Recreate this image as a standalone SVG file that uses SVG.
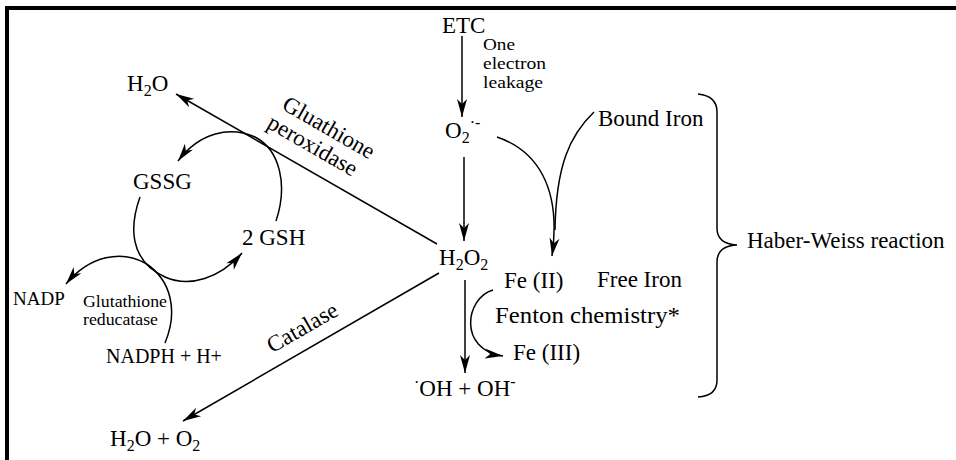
<svg xmlns="http://www.w3.org/2000/svg" width="956" height="460" viewBox="0 0 956 460">
<style>
text{font-family:"Liberation Serif","Times New Roman",serif;font-size:23px;fill:#000}
.sm{font-size:16.5px}
.xs{font-size:16px}
.sub{font-size:16px}
.ln{fill:none;stroke:#000;stroke-width:1.5}
</style>
<defs>
<marker id="ah" viewBox="-20 -6 21 12" refX="0" refY="0" markerWidth="21" markerHeight="12" markerUnits="userSpaceOnUse" orient="auto">
<path d="M0,0 L-18,-5 L-13,0 L-18,5 Z" fill="#000"/>
</marker>
</defs>
<rect width="956" height="460" fill="#fff"/>
<path d="M7,460 L7,8 L956,8" fill="none" stroke="#000" stroke-width="4"/>

<g id="connectors">
<path class="ln" d="M462,36 L462,117" marker-end="url(#ah)"/>
<path class="ln" d="M464,157 L464,241" marker-end="url(#ah)"/>
<path class="ln" d="M465,280 L465,373" marker-end="url(#ah)"/>
<path class="ln" d="M437,244 L176,94" marker-end="url(#ah)"/>
<path class="ln" d="M439,273 L183,421" marker-end="url(#ah)"/>
<path class="ln" d="M276,221 C288,185 280,150 255,137 C230,126 200,132 178,161" marker-end="url(#ah)"/>
<path class="ln" d="M140,197 C130,225 128,260 165,277 C190,288 220,278 242,253" marker-end="url(#ah)"/>
<path class="ln" d="M165,343 C178,312 172,280 145,263 C122,250 90,255 66,284" marker-end="url(#ah)"/>
<path class="ln" d="M497,137 C535,150 562,185 552,256" marker-end="url(#ah)"/>
<path class="ln" d="M594,112 C570,135 556,165 555,230"/>
<path class="ln" d="M493,290 C465,298 458,350 503,356" marker-end="url(#ah)"/>
<path class="ln" d="M698,94 Q717,96 717,112 L717,228 Q717,244 737,245 Q717,246 717,262 L717,380 Q717,396 698,397"/>
</g>

<g id="etc"><text x="442" y="33">ETC</text></g>
<g id="leak">
<text class="sm" x="483" y="50" textLength="32" lengthAdjust="spacingAndGlyphs">One</text>
<text class="sm" x="483" y="69" textLength="63" lengthAdjust="spacingAndGlyphs">electron</text>
<text class="sm" x="483" y="87.5" textLength="60" lengthAdjust="spacingAndGlyphs">leakage</text>
</g>
<g id="superoxide"><text x="445" y="138">O<tspan class="sub" dy="5">2</tspan><tspan class="sub" dy="-15">·-</tspan></text></g>
<g id="h2o2"><text x="439" y="265">H<tspan class="sub" dy="5">2</tspan><tspan dy="-5">O</tspan><tspan class="sub" dy="5">2</tspan></text></g>
<g id="h2o"><text x="127" y="91">H<tspan class="sub" dy="5">2</tspan><tspan dy="-5">O</tspan></text></g>
<g id="gpx">
<text text-anchor="middle" transform="translate(325,134) rotate(30)">Gluathione</text>
<text text-anchor="middle" transform="translate(309,152) rotate(30)">peroxidase</text>
</g>
<g id="gssg"><text x="133" y="189">GSSG</text></g>
<g id="gsh"><text x="242" y="245">2 GSH</text></g>
<g id="nadp"><text x="13" y="305" style="font-size:19px">NADP</text></g>
<g id="gr">
<text class="xs" x="83" y="307" textLength="84" lengthAdjust="spacingAndGlyphs">Glutathione</text>
<text class="xs" x="83" y="325" textLength="75" lengthAdjust="spacingAndGlyphs">reducatase</text>
</g>
<g id="nadph"><text x="106" y="363" style="font-size:20px">NADPH + H+</text></g>
<g id="catalase"><text text-anchor="middle" transform="translate(306,334) rotate(-30)">Catalase</text></g>
<g id="h2o_o2"><text x="110" y="446">H<tspan class="sub" dy="5">2</tspan><tspan dy="-5">O + O</tspan><tspan class="sub" dy="5">2</tspan></text></g>
<g id="bound"><text x="598" y="126">Bound Iron</text></g>
<g id="fe2"><text x="504" y="288">Fe (II)</text></g>
<g id="free"><text x="597" y="287">Free Iron</text></g>
<g id="fenton"><text x="495" y="323" textLength="185" lengthAdjust="spacingAndGlyphs">Fenton chemistry*</text></g>
<g id="fe3"><text x="513" y="360">Fe (III)</text></g>
<g id="oh"><text x="414" y="396"><tspan class="sub" dy="-8">·</tspan><tspan dy="8">OH + OH</tspan><tspan class="sub" dy="-9">-</tspan></text></g>
<g id="hw"><text x="747" y="248">Haber-Weiss reaction</text></g>
</svg>
